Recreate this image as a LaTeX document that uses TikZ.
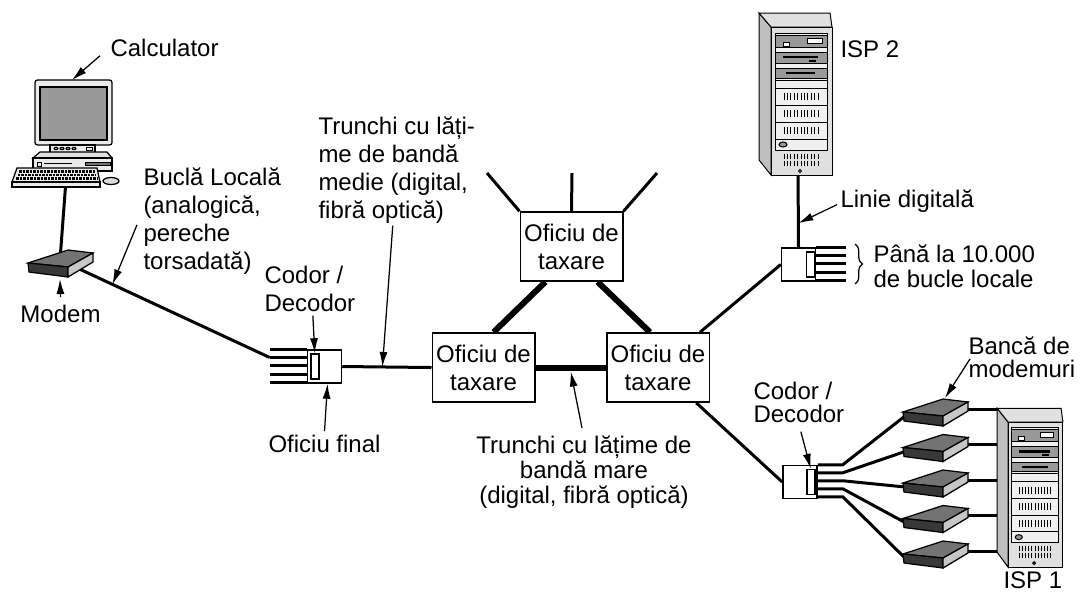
\documentclass[tikz,border=0pt]{standalone}
\usepackage{fontspec}
\setmainfont{Liberation Sans}
\usetikzlibrary{arrows.meta,calc,backgrounds,decorations.pathreplacing}

\begin{document}
\begin{tikzpicture}[
x=0.4pt, y=-0.4pt,
lbl/.style={inner sep=0pt, font=\fontsize{9.6}{#1}\selectfont},
lbl/.default=11.2,
office/.style={
draw,
fill=white,
line width=0.6pt,
minimum width=41pt,
minimum height=27.6pt,
inner sep=0pt,
align=center,
font=\fontsize{9.6}{11.2}\selectfont
},
codec/.style={draw, fill=white, line width=0.6pt, minimum width=13.6pt, minimum height=13.2pt, inner sep=0pt},
slot/.style={draw, fill=white, line width=0.6pt, minimum width=3.2pt, minimum height=10pt, inner sep=0pt},
wire/.style={line width=1.2pt},
trunk/.style={line width=2.4pt},
ptr/.style={line width=0.5pt, -{Latex[length=6pt,width=3.2pt]}},
modem/.pic={
\coordinate (-c) at (32,-3);
\coordinate (-l) at (2,4);
\coordinate (-back) at (42,-14);
\coordinate (-bot) at (32,16);
\filldraw[fill=black!55, line width=0.5pt] (0,0) -- (40,-13) -- (65,-10) -- (40,4) -- cycle;
\filldraw[fill=black!78, line width=0.5pt] (0,0) -- (40,4) -- (40,14) -- (1,9) -- cycle;
\filldraw[fill=black!22, line width=0.5pt] (40,4) -- (65,-10) -- (65,-1) -- (40,14) -- cycle;
},
server/.pic={
\begin{scope}[line width=0.4pt]
\coordinate (-c) at (30,70);
\coordinate (-foot) at (27,140);
\coordinate (-side) at (-12,70);
\filldraw[fill=black!25] (-12,-14) -- (0,0) -- (0,148) -- (-12,133) -- cycle;
\filldraw[fill=black!12] (-12,-14) -- (59,-14) -- (61,0) -- (0,0) -- cycle;
\filldraw[fill=black!12] (0,0) rectangle (61,148);
\filldraw[fill=black!6] (4,6) rectangle (56,123);
% drive bays
\filldraw[fill=black!40] (4,8) rectangle (56,20);
\filldraw[fill=white] (36,11) rectangle (51,16);
\filldraw[fill=white] (12,15) rectangle (18,19);
\filldraw[fill=black!40] (4,25) rectangle (56,36);
\draw[line width=1pt] (12,30) -- (47,30);
\fill (38,32.5) rectangle (45,34.5);
\filldraw[fill=black!40] (4,41) rectangle (56,51);
\draw[line width=1pt] (15,46) -- (44,46);
\draw (4,53) rectangle (56,61);
% vents
\foreach \t in {61,78,95} {
\draw (4,\t) rectangle (56,{\t+17});
\foreach \k in {0,...,10} \draw ({13+3.4*\k},{\t+5}) -- ++(0,7);
}
\draw (4,112) rectangle (56,123);
\filldraw[fill=black!40] (12,117.5) ellipse (4 and 2.5);
\foreach \k in {0,...,10} {
\draw ({13+3.4*\k},127) -- ++(0,5);
\draw ({13+3.4*\k},134) -- ++(0,5);
}
\draw (29,144) circle (1.5);
\end{scope}
}
]
\useasboundingbox (0,0) rectangle (1080,596);

% computer
\filldraw[fill=black!8, line width=0.5pt, rounded corners=1pt] (35,80) rectangle (112,145);
\filldraw[fill=black!40, line width=0.5pt] (40,87) rectangle (107,140);
\filldraw[fill=black!8, line width=0.5pt] (50,145) rectangle (95,156);
\foreach \k in {0,...,3} \filldraw[fill=black!40, line width=0.4pt] ({56+6*\k},148.5) ellipse (2 and 1.2);
\draw[line width=0.4pt] (86,147) rectangle (92,150);
\filldraw[fill=black!12, line width=0.5pt] (40,152) -- (107,152) -- (112,158) -- (33,158) -- cycle;
\filldraw[fill=black!8, line width=0.5pt] (33,158) rectangle (112,171);
\draw[line width=0.4pt] (37,162) rectangle (41,166) (44,163) -- (72,163);
\filldraw[fill=black!55, line width=0.4pt] (85,162) rectangle (110,165);
\filldraw[fill=black!8, line width=0.5pt] (17,168) -- (97,168) -- (100,182) -- (12,182) -- cycle;
\filldraw[fill=black!8, line width=0.5pt] (12,182) rectangle (100,187);
\foreach \r in {0,1,2}
\draw[line width=1.1pt, dash pattern=on 1pt off 0.4pt] ({19-1.5*\r},{171.5+3.6*\r}) -- ({95+1.2*\r},{171.5+3.6*\r});
\filldraw[fill=black!15, line width=0.5pt] (111,181) ellipse (8 and 3.5);
\coordinate (pcTop) at (72,80);
\coordinate (pcFoot) at (66,180);

\pic (mA) at (28,263) {modem};
\foreach \i in {1,...,5}
\pic (m\i) at (903,{412+35.5*(\i-1)}) {modem};

\pic (isp2) at (771,27) {server};
\pic[xscale=0.9, yscale=0.98] (isp1) at (1008,422) {server};

% offices
\node[codec] (eoL) at (324.5,366.5) {};
\node[slot] (slL) at ($(eoL.west)+(8,0)$) {};
\node[codec] (csS) at (798.5,264.5) {};
\node[slot] (slS) at ($(csS.east)+(-6,0)$) {};
\node[codec] (csB) at (800,482) {};
\node[slot] (slB) at ($(csB.east)+(-7,0)$) {};

\node[office] (tL) at (483.5,367.5) {Oficiu de\\taxare};
\node[office] (tR) at (658,367.5) {Oficiu de\\taxare};
\node[office] (tT) at (571.5,246.5) {Oficiu de\\taxare};

\coordinate (up1) at (487,173);
\coordinate (up2) at (572,173);
\coordinate (up3) at (657,173);

% labels
\node[lbl, anchor=base west] (calcL) at (110,56) {Calculator};
\node[lbl, anchor=north west, align=left] (bucla) at (143,167) {Buclă Locală\\(analogică,\\pereche\\torsadată)};
\node[lbl, anchor=base west] (modemL) at (20,322) {Modem};
\node[lbl, anchor=north west, align=left] (codL) at (264,266) {Codor /\\Decodor};
\node[lbl, anchor=base west] (finL) at (268,452) {Oficiu final};
\node[lbl, anchor=north west, align=left] (medL) at (318,116) {Trunchi cu lăți-\\me de bandă\\medie (digital,\\fibră optică)};
\node[lbl=10, anchor=north, align=center] (mareL) at (584,435) {Trunchi cu lățime de\\bandă mare\\(digital, fibră optică)};
\node[lbl, anchor=base west] (linL) at (840,207) {Linie digitală};
\node[lbl, anchor=base west] (isp2L) at (840,57) {ISP 2};
\node[lbl=10, anchor=north west, align=left] (locL) at (873,244) {Până la 10.000\\de bucle locale};
\node[lbl=9.2, anchor=north west, align=left] (bankL) at (968,336) {Bancă de\\modemuri};
\node[lbl=9.2, anchor=north west, align=left] (codR) at (753,382) {Codor /\\Decodor};
\node[lbl, anchor=base west] (isp1L) at (1003,588) {ISP 1};

\draw[decorate, decoration={brace, amplitude=3pt}, line width=0.5pt] ($(locL.north west)+(-18,0)$) -- ($(locL.south west)+(-18,-4)$);

% local loops
\foreach \i in {0,...,4} {
\coordinate (fL\i) at ($(eoL.north west)+(-37,{8.25*\i})$);
\draw[wire] (fL\i) -- (fL\i -| eoL.west);
}
\foreach \i in {0,...,4}
\draw[wire] ($(csS.north east)+(0,{8.25*\i})$) -- ++(30,0);

\begin{scope}[on background layer]
\draw[wire] (pcFoot) -- (mA-c);
\draw[wire] (mA-c) -- (fL1);
\draw[wire] (eoL.east) -- (tL.west);
\draw[trunk] (tL) -- (tR);
\draw[trunk] ($(tT.south)+(-26,0)$) -- ($(tL.north)+(10,0)$);
\draw[trunk] ($(tT.south)+(26,0)$) -- ($(tR.north)+(-8,0)$);
\draw[wire] (tT.north west) -- (up1);
\draw[wire] (tT.north) -- (up2);
\draw[wire] (tT.north east) -- (up3);
\draw[wire] (tR) -- (csS.west);
\draw[wire] (tR) -- (csB.west);
\draw[wire] (isp2-foot) -- (csS.north);
\foreach \i in {1,...,5} {
\draw[wire] ($(csB.north east)+(0,{8*(\i-1)})$) -- ++(25,0) -- (m\i-l);
\draw[wire] (m\i-c) -- (m\i-c -| isp1-side);
}
\end{scope}

% pointers
\draw[ptr] (calcL.south west) ++(-10,-1) -- (pcTop);
\draw[ptr] (bucla.west) ++(-6,4) -- ($(mA-c)!0.25!(fL1)$);
\draw[ptr] (modemL.north) ++(0,-7) -- (mA-bot);
\draw[ptr] (codL.south) ++(3,3) -- (slL.north);
\draw[ptr] (finL.north) ++(0,-3) -- ($(eoL.south)+(3,0)$);
\draw[ptr] (medL.south) ++(-4,2) -- ($(eoL.east)!0.45!(tL.west)$);
\draw[ptr] (mareL.north) ++(-2,-7) -- ($(tL.east)!0.5!(tR.west)+(0,4)$);
\draw[ptr] (linL.west) ++(-3,4) -- ($(isp2-foot)!0.7!(csS.north)$);
\draw[ptr] (bankL.west) ++(2,2) -- (m1-back);
\draw[ptr] (codR.south) ++(2,8) -- (slB.north);

\end{tikzpicture}
\end{document}
